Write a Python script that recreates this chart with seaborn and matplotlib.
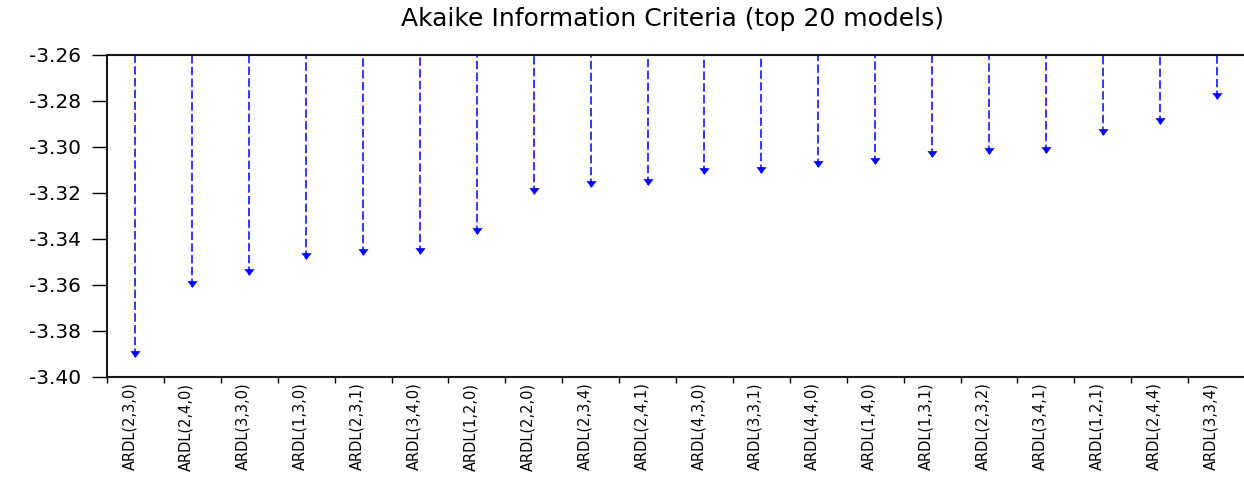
import matplotlib
matplotlib.use("Agg")
import matplotlib.pyplot as plt
import matplotlib.transforms as mtransforms
from matplotlib.path import Path
import numpy as np
import pandas as pd
import seaborn as sns

# Top 20 ARDL specifications ranked by Akaike information criterion
models = [
    "ARDL(2,3,0)", "ARDL(2,4,0)", "ARDL(3,3,0)", "ARDL(1,3,0)", "ARDL(2,3,1)",
    "ARDL(3,4,0)", "ARDL(1,2,0)", "ARDL(2,2,0)", "ARDL(2,3,4)", "ARDL(2,4,1)",
    "ARDL(4,3,0)", "ARDL(3,3,1)", "ARDL(4,4,0)", "ARDL(1,4,0)", "ARDL(1,3,1)",
    "ARDL(2,3,2)", "ARDL(3,4,1)", "ARDL(1,2,1)", "ARDL(2,4,4)", "ARDL(3,3,4)",
]
aic = [
    -3.3912, -3.3609, -3.3558, -3.3486, -3.3471,
    -3.3467, -3.3381, -3.3203, -3.3174, -3.3167,
    -3.3118, -3.3116, -3.3086, -3.3076, -3.3044,
    -3.3030, -3.3027, -3.2948, -3.2901, -3.2792,
]
y_ticks = [-3.26, -3.28, -3.30, -3.32, -3.34, -3.36, -3.38, -3.40]
title = "Akaike Information Criteria (top 20 models)"

df = pd.DataFrame({"model": models, "aic": aic})

sns.set_theme(style="white")
plt.rcParams["font.family"] = ["DejaVu Sans"]
plt.rcParams["text.color"] = "black"
plt.rcParams["xtick.color"] = "black"
plt.rcParams["ytick.color"] = "black"

fig = plt.figure(figsize=(12.44, 4.79), dpi=100)
ax = fig.add_axes([107 / 1244, 1 - 377 / 479, 1138 / 1244, (377 - 54.7) / 479])

y_top = max(y_ticks)
y_bot = min(y_ticks)

# dashed drop lines from the top of the frame down to each value
ax.vlines(np.arange(len(df)), df["aic"], y_top, colors="#0000ff",
          linestyles=(0, (5.5, 2.2)), linewidth=1.1, zorder=2)

# downward arrowhead with its tip sitting on the value
tip = Path([(-0.75, 1.0), (0.75, 1.0), (0.0, 0.0), (-0.75, 1.0)],
           [Path.MOVETO, Path.LINETO, Path.LINETO, Path.CLOSEPOLY])
sns.scatterplot(data=df, x="model", y="aic", marker=tip, s=80,
                color="#0000ff", edgecolor="#0000ff", linewidth=0.3,
                ax=ax, zorder=3, legend=False)

ax.set_xlim(-0.5, len(df) - 0.5)
ax.set_ylim(y_bot, y_top)
ax.set_xlabel("")
ax.set_ylabel("")

ax.set_yticks(y_ticks)
ax.set_yticklabels([f"{t:.2f}" for t in y_ticks], fontsize=14.5)
ax.tick_params(axis="y", which="major", direction="out", length=10.5,
               width=1.0, color="black", pad=8, left=True)

ax.set_xticks(np.arange(len(df)))
ax.set_xticklabels(models, rotation=90, fontsize=10.5, va="top", ha="center")
ax.set_xticks(np.arange(len(df) + 1) - 0.5, minor=True)
ax.tick_params(axis="x", which="major", length=0, pad=4)
ax.tick_params(axis="x", which="minor", direction="out", length=4,
               width=1.0, color="black", bottom=True)

# nudge the rotated model names slightly left of each drop line
shift = mtransforms.ScaledTranslation(-6 / 100, 0, fig.dpi_scale_trans)
for lab in ax.get_xticklabels():
    lab.set_transform(lab.get_transform() + shift)

for side in ("left", "bottom", "top"):
    ax.spines[side].set_visible(True)
    ax.spines[side].set_color("#1a1a1a")
    ax.spines[side].set_linewidth(1.5)
ax.spines["right"].set_visible(False)

ax.text(0.4966, 1 + (54.7 - 19) / (377 - 54.7), title,
        transform=ax.transAxes, ha="center", va="center", fontsize=18,
        color="black")

fig.savefig("out.png", dpi=100)
